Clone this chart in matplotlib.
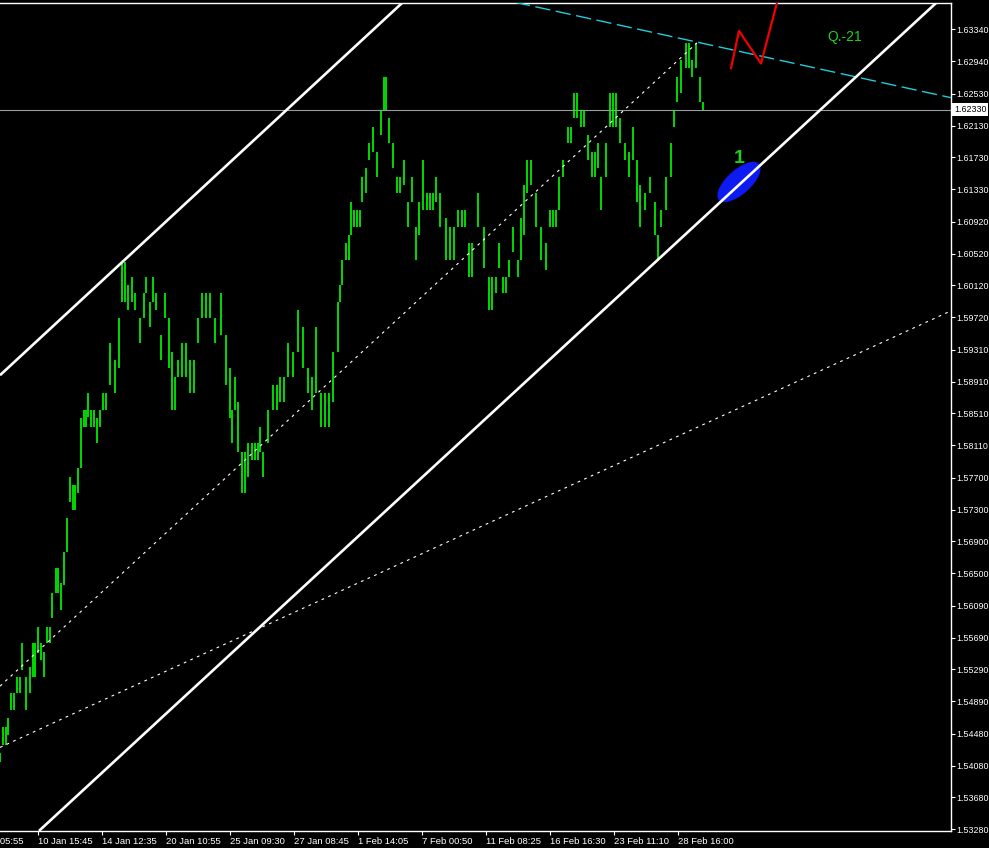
"""
Range-bar price chart with channel lines and markup, dark terminal style.
"""
import matplotlib

matplotlib.use("Agg")
import matplotlib.pyplot as plt
from matplotlib.patches import Ellipse
from matplotlib.transforms import ScaledTranslation, blended_transform_factory

# position of each bar on the time axis (chart columns)
bar_pos = [
    0, 3, 6, 8, 11, 14, 17, 20, 22, 26, 30, 33, 35, 38, 41, 44, 47, 50, 52, 56,
    58, 61, 64, 67, 70, 73, 75, 78, 81, 84, 86, 88, 91, 94, 97, 100, 103, 106, 110, 115,
    119, 122, 125, 128, 132, 135, 140, 144, 146, 150, 153, 156, 161, 165, 169, 172, 175, 178, 182, 186,
    190, 194, 198, 202, 206, 210, 215, 221, 226, 230, 232, 235, 238, 242, 245, 248, 252, 255, 258, 260,
    263, 268, 273, 277, 280, 284, 288, 293, 298, 303, 308, 312, 316, 321, 325, 329, 333, 338, 340, 342,
    346, 349, 351, 354, 357, 360, 362, 366, 369, 373, 377, 381, 384, 386, 389, 393, 397, 400, 404, 408,
    412, 416, 419, 423, 427, 430, 433, 436, 440, 446, 450, 454, 458, 462, 465, 469, 472, 478, 484, 489,
    492, 496, 499, 503, 506, 509, 513, 518, 521, 524, 527, 531, 536, 541, 546, 550, 553, 556, 559, 563,
    568, 571, 574, 577, 581, 584, 588, 592, 595, 598, 601, 606, 610, 613, 616, 620, 625, 629, 633, 637,
    640, 645, 650, 655, 658, 661, 666, 671, 674, 677, 681, 686, 689, 692, 696, 700, 703,
]
bar_high = [
    1.5424, 1.5457, 1.5457, 1.5468, 1.5499, 1.5499, 1.5520, 1.5520, 1.5562, 1.5520,
    1.5532, 1.5562, 1.5562, 1.5582, 1.5562, 1.5551, 1.5582, 1.5582, 1.5625, 1.5657,
    1.5657, 1.5638, 1.5677, 1.5720, 1.5771, 1.5761, 1.5761, 1.5782, 1.5845, 1.5855,
    1.5855, 1.5877, 1.5855, 1.5855, 1.5845, 1.5855, 1.5877, 1.5877, 1.5940, 1.5918,
    1.5971, 1.6041, 1.6041, 1.6013, 1.6023, 1.6002, 1.5971, 1.6002, 1.6023, 1.5991,
    1.6023, 1.6002, 1.5950, 1.6002, 1.5971, 1.5928, 1.5897, 1.5918, 1.5940, 1.5940,
    1.5918, 1.5918, 1.5971, 1.6002, 1.6002, 1.6002, 1.5971, 1.6002, 1.5950, 1.5908,
    1.5855, 1.5897, 1.5865, 1.5802, 1.5802, 1.5814, 1.5814, 1.5814, 1.5814, 1.5834,
    1.5802, 1.5855, 1.5887, 1.5887, 1.5897, 1.5897, 1.5940, 1.5928, 1.5981, 1.5960,
    1.5908, 1.5897, 1.5960, 1.5877, 1.5877, 1.5877, 1.5928, 1.5991, 1.6013, 1.6044,
    1.6065, 1.6075, 1.6117, 1.6107, 1.6107, 1.6107, 1.6148, 1.6160, 1.6191, 1.6211,
    1.6180, 1.6232, 1.6274, 1.6274, 1.6222, 1.6191, 1.6148, 1.6148, 1.6170, 1.6117,
    1.6148, 1.6085, 1.6117, 1.6170, 1.6128, 1.6128, 1.6128, 1.6148, 1.6128, 1.6097,
    1.6085, 1.6085, 1.6107, 1.6107, 1.6107, 1.6065, 1.6065, 1.6128, 1.6085, 1.6023,
    1.6023, 1.6023, 1.6065, 1.6023, 1.6023, 1.6044, 1.6085, 1.6044, 1.6097, 1.6138,
    1.6170, 1.6170, 1.6128, 1.6085, 1.6065, 1.6107, 1.6107, 1.6107, 1.6148, 1.6170,
    1.6211, 1.6211, 1.6254, 1.6254, 1.6232, 1.6232, 1.6201, 1.6180, 1.6180, 1.6191,
    1.6148, 1.6191, 1.6254, 1.6254, 1.6254, 1.6222, 1.6191, 1.6180, 1.6211, 1.6170,
    1.6138, 1.6128, 1.6148, 1.6117, 1.6075, 1.6107, 1.6148, 1.6191, 1.6232, 1.6274,
    1.6295, 1.6317, 1.6317, 1.6295, 1.6317, 1.6274, 1.6243,
]
bar_low = [
    1.5413, 1.5434, 1.5434, 1.5447, 1.5478, 1.5478, 1.5499, 1.5499, 1.5528, 1.5478,
    1.5499, 1.5520, 1.5520, 1.5550, 1.5541, 1.5520, 1.5562, 1.5562, 1.5594, 1.5625,
    1.5625, 1.5604, 1.5635, 1.5677, 1.5740, 1.5730, 1.5730, 1.5751, 1.5782, 1.5834,
    1.5834, 1.5846, 1.5834, 1.5834, 1.5814, 1.5834, 1.5855, 1.5855, 1.5887, 1.5877,
    1.5908, 1.5991, 1.5991, 1.5981, 1.5991, 1.5981, 1.5940, 1.5971, 1.6002, 1.5960,
    1.5991, 1.5981, 1.5918, 1.5971, 1.5908, 1.5855, 1.5855, 1.5897, 1.5897, 1.5897,
    1.5877, 1.5877, 1.5940, 1.5971, 1.5971, 1.5971, 1.5940, 1.5950, 1.5887, 1.5845,
    1.5814, 1.5855, 1.5802, 1.5751, 1.5751, 1.5771, 1.5792, 1.5792, 1.5792, 1.5802,
    1.5771, 1.5814, 1.5855, 1.5855, 1.5865, 1.5865, 1.5897, 1.5897, 1.5928, 1.5908,
    1.5877, 1.5855, 1.5877, 1.5834, 1.5834, 1.5834, 1.5865, 1.5928, 1.5991, 1.6013,
    1.6044, 1.6044, 1.6075, 1.6085, 1.6085, 1.6085, 1.6117, 1.6128, 1.6170, 1.6180,
    1.6148, 1.6201, 1.6232, 1.6232, 1.6191, 1.6160, 1.6128, 1.6128, 1.6138, 1.6085,
    1.6117, 1.6044, 1.6075, 1.6107, 1.6107, 1.6107, 1.6107, 1.6117, 1.6085, 1.6044,
    1.6044, 1.6044, 1.6085, 1.6085, 1.6085, 1.6023, 1.6023, 1.6085, 1.6034, 1.5981,
    1.5981, 1.6002, 1.6034, 1.6002, 1.6002, 1.6023, 1.6054, 1.6023, 1.6044, 1.6075,
    1.6128, 1.6138, 1.6085, 1.6044, 1.6031, 1.6085, 1.6085, 1.6085, 1.6107, 1.6148,
    1.6191, 1.6191, 1.6222, 1.6222, 1.6211, 1.6211, 1.6170, 1.6148, 1.6148, 1.6160,
    1.6107, 1.6148, 1.6211, 1.6211, 1.6211, 1.6191, 1.6170, 1.6148, 1.6170, 1.6117,
    1.6085, 1.6107, 1.6128, 1.6075, 1.6044, 1.6085, 1.6107, 1.6148, 1.6211, 1.6243,
    1.6254, 1.6285, 1.6285, 1.6274, 1.6285, 1.6243, 1.6232,
]

# trend lines drawn on the chart: (time, price) anchors
channel_upper_t = [0, 402]
channel_upper_p = [1.5899, 1.6367]
channel_lower_t = [39, 936]
channel_lower_p = [1.5326, 1.6367]
mid_trend_t = [0, 697]
mid_trend_p = [1.5508, 1.6317]
low_trend_t = [0, 951]
low_trend_p = [1.5431, 1.5980]
cyan_trend_t = [515, 951]
cyan_trend_p = [1.6368, 1.6248]
wave_t = [731, 739, 761, 779]
wave_p = [1.6285, 1.6332, 1.6291, 1.6377]

ellipse_t = 739
ellipse_p = 1.61420
label_one_t, label_one_p = 739, 1.6171
label_q_t, label_q_p = 827, 1.6324

last_price = 1.62330

price_ticks = [
    1.63340, 1.62940, 1.62530, 1.62130, 1.61730, 1.61330, 1.60920, 1.60520,
    1.60120, 1.59720, 1.59310, 1.58910, 1.58510, 1.58110, 1.57700, 1.57300,
    1.56900, 1.56500, 1.56090, 1.55690, 1.55290, 1.54890, 1.54480, 1.54080,
    1.53680, 1.53280,
]
time_tick_pos = [38, 102, 166, 230, 294, 358, 422, 486, 550, 614, 678]
time_tick_labels = [
    "10 Jan 15:45", "14 Jan 12:35", "20 Jan 10:55", "25 Jan 09:30",
    "27 Jan 08:45", "1 Feb 14:05", "7 Feb 00:50", "11 Feb 08:25",
    "16 Feb 16:30", "23 Feb 11:10", "28 Feb 16:00",
]
first_time_pos = -26
first_time_label = "7 Jan 05:55"

BAR_GREEN = "#00FF00"
TEXT_GREEN = "#1ED21E"
CYAN = "#22CCDD"
FONT = "Liberation Sans"
PRICE_FS = 6.4
TIME_FS = 6.8

W, H = 989, 848


def main():
    fig = plt.figure(figsize=(W / 100, H / 100), dpi=100, facecolor="black")
    ax = fig.add_axes([0, 17 / H, 951 / W, 828.5 / H], facecolor="black")
    ax.set_xlim(0, 951)
    ax.set_ylim(1.5325863, 1.6367701)

    ax.axhline(last_price, color="#9A9AA2", lw=0.8, zorder=1)

    ax.vlines(bar_pos, bar_low, bar_high, colors=BAR_GREEN, lw=1.2, zorder=2)

    ax.plot(mid_trend_t, mid_trend_p, color="white", lw=0.8,
            linestyle=(0, (2.5, 4)), zorder=3)
    ax.plot(low_trend_t, low_trend_p, color="white", lw=0.8,
            linestyle=(0, (2.5, 4)), zorder=3)
    ax.plot(cyan_trend_t, cyan_trend_p, color=CYAN, lw=1.0,
            linestyle=(0, (11, 4)), zorder=3)
    ax.plot(wave_t, wave_p, color="#F00000", lw=1.6, zorder=3)

    blob = Ellipse((0, 0), 0.54, 0.24, angle=42, facecolor="#0D1AF2",
                   edgecolor="none", zorder=4,
                   transform=fig.dpi_scale_trans
                   + ScaledTranslation(ellipse_t, ellipse_p, ax.transData))
    ax.add_patch(blob)

    for t, p in ((channel_upper_t, channel_upper_p), (channel_lower_t, channel_lower_p)):
        ax.plot(t, p, color="white", lw=1.9, zorder=5, solid_capstyle="butt")

    ax.text(label_one_t, label_one_p, "1", color=TEXT_GREEN, fontsize=14,
            fontweight="bold", family=FONT, ha="center", va="center", zorder=6)
    ax.text(label_q_t, label_q_p, "Q.-21", color=TEXT_GREEN, fontsize=10,
            family=FONT, ha="left", va="center", zorder=6)

    # axes frame
    for side in ("top", "bottom", "right"):
        ax.spines[side].set_color("white")
        ax.spines[side].set_linewidth(1.0)
    ax.spines["left"].set_visible(False)

    ax.yaxis.tick_right()
    ax.set_yticks(price_ticks)
    ax.set_yticklabels(["{:.5f}".format(v) for v in price_ticks])
    ax.set_xticks(time_tick_pos)
    ax.set_xticklabels(time_tick_labels)
    for lab in ax.get_xticklabels():
        lab.set_horizontalalignment("left")
    ax.tick_params(axis="x", colors="white", labelcolor="white", labelsize=TIME_FS,
                   length=3, width=0.8, direction="out", pad=1.5)
    ax.tick_params(axis="y", colors="white", labelcolor="white", labelsize=PRICE_FS,
                   length=3, width=0.8, direction="out", pad=1.0,
                   left=False, right=True)
    for lab in ax.get_xticklabels() + ax.get_yticklabels():
        lab.set_family(FONT)

    bottom_tr = blended_transform_factory(ax.transData, ax.transAxes)
    ax.text(first_time_pos, -0.0075, first_time_label, transform=bottom_tr,
            color="white", fontsize=TIME_FS, family=FONT, ha="left", va="top",
            clip_on=False)

    right_tr = blended_transform_factory(ax.transAxes, ax.transData)
    ax.text(1.003, last_price, "{:.5f}".format(last_price), transform=right_tr,
            color="black", fontsize=PRICE_FS, family=FONT, ha="left", va="center",
            bbox=dict(boxstyle="square,pad=0.2", facecolor="white", edgecolor="none"),
            clip_on=False, zorder=7)

    fig.savefig("out.png", dpi=100, facecolor="black")
    plt.close(fig)


if __name__ == "__main__":
    main()
